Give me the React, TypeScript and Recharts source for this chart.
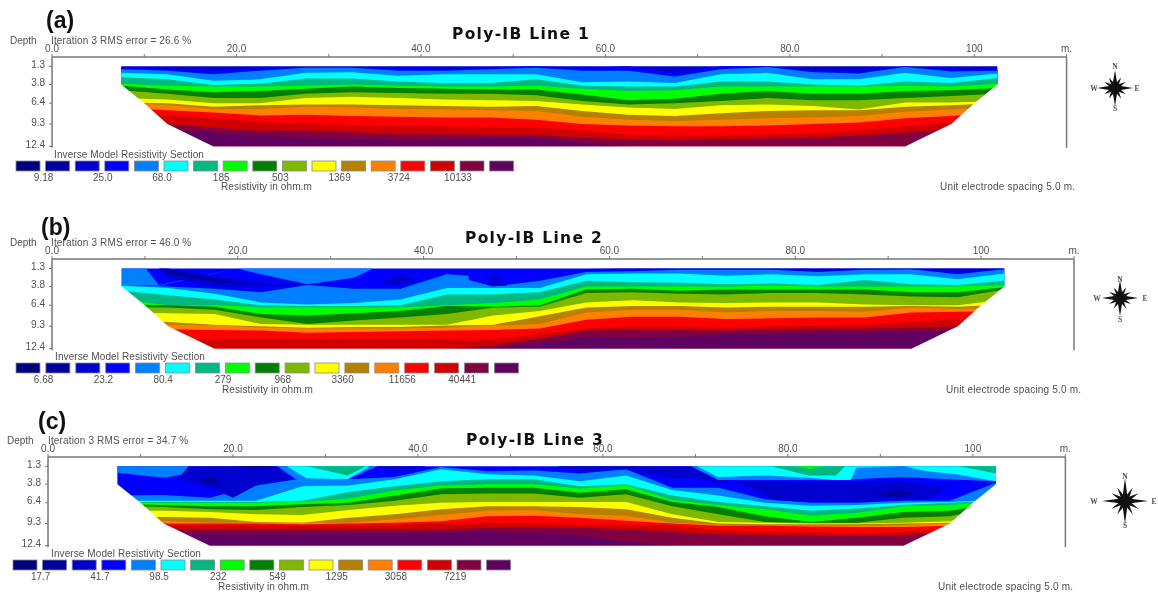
import React from 'react';
import { ComposedChart, Area, XAxis, YAxis } from 'recharts';

// section mesh columns, metres along the line
const columns = [7.5, 12.5, 17.5, 22.5, 27.5, 32.5, 37.5, 42.5, 47.5, 52.5, 57.5, 62.5, 67.5, 72.5, 77.5, 82.5, 87.5, 92.5, 97.5, 102.5];
const xTicks = [0, 10, 20, 30, 40, 50, 60, 70, 80, 90, 100, 110];
const depthTicks = [1.3, 3.8, 6.4, 9.3, 12.4];
const outlineX = [7, 7.5, 10, 12.5, 17.5, 92.5, 97.5, 100, 102.5, 103];
const outlineDepth = [3.8, 3.8, 6.4, 9.3, 12.4, 12.4, 9.3, 6.4, 3.8, 3.8];

const palette = ['#00007f', '#00009f', '#0000cf', '#0000ff', '#0080ff', '#00ffff', '#00b880', '#00ff00', '#007f00', '#80b800', '#ffff00', '#b88000', '#ff8000', '#ff0000', '#d00000', '#800040', '#600060'];

const top = columns.map(() => 1.3);

// Line 1: depth where each colour starts, top to bottom
const a3 = [1.4, 1.6, 1.9, 1.5, 1.4, 1.4, 1.5, 1.5, 1.4, 1.3, 1.5, 1.3, 2.2, 1.3, 1.3, 1.9, 2.0, 1.3, 1.7, 1.7];
const a4 = [1.7, 1.9, 2.4, 1.9, 1.5, 1.5, 1.9, 1.9, 1.7, 1.5, 1.9, 1.9, 2.7, 1.7, 1.4, 2.1, 2.3, 1.4, 2.0, 1.9];
const a5 = [2.2, 2.4, 3.3, 3.1, 2.2, 2.1, 2.6, 2.4, 2.4, 2.4, 3.5, 3.4, 3.6, 2.4, 2.2, 3.1, 3.1, 2.2, 2.9, 2.3];
const a6 = [2.8, 3.1, 3.9, 3.7, 3.0, 3.0, 3.4, 3.6, 3.6, 3.1, 4.0, 4.1, 4.1, 3.4, 3.4, 3.8, 4.0, 3.4, 3.6, 2.9];
const a7 = [3.7, 4.0, 4.1, 4.1, 4.0, 3.8, 4.0, 4.1, 4.1, 4.0, 4.4, 4.7, 4.6, 4.1, 4.1, 4.1, 4.1, 4.0, 4.1, 3.7];
const a8 = [4.0, 4.5, 4.9, 4.7, 4.4, 4.1, 4.3, 4.4, 4.5, 4.5, 5.2, 6.0, 5.8, 5.1, 4.7, 5.1, 5.1, 4.7, 4.6, 4.3];
const a9 = [4.6, 5.1, 5.7, 5.7, 5.1, 4.9, 5.0, 5.1, 5.1, 5.3, 6.1, 6.6, 6.4, 6.1, 5.7, 6.0, 6.0, 5.7, 5.4, 5.1];
const a10 = [5.7, 5.9, 6.4, 6.4, 5.7, 5.5, 5.7, 5.9, 6.0, 6.1, 6.6, 7.0, 7.2, 6.7, 6.6, 6.8, 7.3, 6.3, 6.3, 6.1];
const a11 = [6.3, 6.4, 6.9, 6.7, 6.6, 6.6, 6.7, 6.8, 6.9, 6.8, 7.5, 8.0, 8.2, 7.8, 7.5, 7.4, 7.4, 6.9, 6.7, 6.4];
const a12 = [6.4, 6.7, 7.2, 7.2, 6.9, 7.0, 7.2, 7.3, 7.4, 7.5, 8.3, 8.7, 8.9, 8.7, 8.5, 8.4, 8.2, 7.6, 7.3, 6.9];
const a13 = [7.0, 7.4, 7.7, 8.1, 8.0, 8.2, 8.3, 8.4, 8.4, 8.7, 9.3, 9.5, 9.6, 9.6, 9.5, 9.3, 9.1, 8.5, 8.2, 7.7];
const a14 = [8.0, 8.2, 8.5, 9.0, 9.3, 9.5, 9.6, 9.6, 9.8, 9.8, 10.2, 10.8, 10.9, 10.9, 10.7, 10.6, 10.2, 9.6, 9.1, 8.6];
const a15 = [9.1, 9.3, 9.8, 10.2, 10.2, 10.4, 10.7, 10.7, 10.8, 10.8, 11.2, 11.4, 11.6, 11.4, 11.3, 11.2, 10.9, 10.5, 10.0, 9.6];
const a16 = [9.8, 10.1, 10.5, 10.9, 11.2, 11.4, 11.6, 11.5, 11.2, 11.3, 11.9, 12.4, 12.4, 12.4, 12.4, 12.4, 12.4, 12.4, 12.4, 12.4];

// Line 2
const b4 = [3.6, 3.8, 4.1, 4.6, 3.6, 4.1, 4.1, 2.1, 3.8, 3.0, 1.8, 1.7, 1.5, 1.5, 1.5, 1.8, 1.5, 1.4, 2.1, 1.4];
const b5 = [3.7, 4.0, 4.8, 6.0, 6.3, 6.1, 5.6, 4.0, 4.0, 4.0, 2.1, 2.0, 2.0, 2.3, 2.1, 2.4, 2.1, 2.1, 2.8, 2.0];
const b6 = [4.4, 5.0, 5.6, 6.4, 6.5, 6.5, 6.4, 4.9, 4.9, 4.6, 3.0, 3.2, 3.3, 3.5, 3.4, 3.6, 2.9, 3.5, 3.6, 3.0];
const b7 = [5.6, 6.4, 6.4, 6.7, 6.7, 6.7, 6.7, 6.4, 6.1, 5.6, 3.8, 3.8, 3.8, 3.8, 3.7, 3.8, 3.8, 3.8, 3.8, 3.6];
const b8 = [6.3, 6.4, 6.6, 7.6, 7.8, 7.5, 7.2, 6.5, 6.6, 6.4, 4.2, 4.1, 4.4, 4.2, 4.2, 4.2, 4.2, 4.6, 4.6, 3.9];
const b9 = [6.7, 6.7, 7.0, 8.1, 9.0, 8.5, 8.1, 7.6, 6.7, 6.6, 4.7, 4.6, 4.8, 4.9, 4.7, 4.7, 4.9, 5.2, 5.3, 4.2];
const b10 = [7.4, 7.5, 7.6, 9.0, 9.1, 9.1, 9.1, 9.1, 7.8, 7.2, 6.0, 5.7, 6.0, 6.1, 6.0, 6.0, 6.3, 6.4, 6.4, 5.6];
const b11 = [8.3, 8.7, 9.1, 9.3, 9.5, 9.4, 9.4, 9.2, 9.1, 7.9, 6.7, 6.5, 6.5, 6.7, 6.6, 6.6, 6.6, 6.5, 6.6, 6.3];
const b12 = [9.0, 9.1, 9.2, 9.5, 9.6, 9.6, 9.6, 9.5, 9.2, 9.0, 7.4, 7.0, 7.0, 7.4, 7.2, 7.2, 7.3, 6.7, 6.9, 6.7];
const b13 = [9.5, 9.7, 9.8, 9.9, 10.2, 10.1, 10.0, 9.9, 9.8, 9.6, 8.4, 8.0, 8.0, 8.3, 8.2, 8.1, 8.1, 7.4, 7.3, 7.2];
const b14 = [11.1, 11.1, 11.1, 11.1, 11.1, 11.1, 11.1, 11.1, 11.1, 10.4, 9.6, 9.3, 9.3, 9.5, 9.3, 9.2, 9.1, 8.7, 8.3, 7.9];
const b15 = [12.4, 12.4, 12.4, 12.4, 12.4, 12.4, 12.4, 12.4, 11.9, 11.0, 9.9, 9.8, 9.8, 9.9, 9.7, 9.6, 9.6, 9.5, 9.3, 8.8];
const b16 = [12.4, 12.4, 12.4, 12.4, 12.4, 12.4, 12.4, 12.4, 12.4, 11.6, 10.7, 10.8, 10.7, 10.4, 10.4, 10.2, 10.2, 10.1, 9.9, 9.7];

// Line 2 patches near the surface
const bSkyX = [7.5, 10.1, 11.5, 19.9, 22.5, 27.5, 32.5, 34.6, 41, 42.5, 44.8, 45];
const bSkyUp = [1.3, 1.3, 3.6, 1.3, 1.3, 1.3, 1.3, 1.3, 3.6, 2.1, 2.3, 3.7];
const bSkyLow = [3.6, 3.6, 3.7, 1.3, 2.1, 3.5, 2.6, 1.3, 3.6, 3.8, 3.8, 3.8];
const bDarkX = [11.5, 12.5, 17.5, 22.5, 27.5, 32.5, 35, 37.5, 39.4, 46.8, 47.5, 49, 51, 57.5, 62.5, 67.5, 72.5, 77.5, 82.5, 87.5, 92.5, 97.5, 102.5];
const bDarkUp = [1.3, 1.3, 2.4, 3.2, 3.6, 3.8, 3.4, 2.1, 2.9, 3.6, 2.0, 3.7, 1.3, 1.3, 1.3, 1.3, 1.3, 1.3, 1.3, 1.3, 1.3, 1.3, 1.3];
const bDarkLow = [1.3, 2.6, 3.8, 3.8, 3.6, 3.8, 3.4, 3.6, 2.9, 3.6, 3.7, 3.7, 1.3, 1.3, 1.4, 1.4, 1.4, 1.4, 1.7, 1.4, 1.4, 1.8, 1.4];
const bNavyX = [11.5, 12.5, 17.5, 21];
const bNavyUp = [1.3, 1.5, 2.6, 3.4];
const bNavyLow = [1.3, 2.0, 3.1, 3.4];

// Line 3
const c4 = [5.4, 5.3, 5.7, 4.0, 3.0, 3.1, 2.8, 1.4, 2.0, 1.9, 2.3, 1.7, 4.3, 4.3, 5.9, 6.4, 6.4, 6.1, 6.1, 3.6];
const c5 = [6.1, 6.1, 6.1, 6.1, 4.1, 4.0, 3.1, 1.7, 2.4, 2.6, 3.4, 2.6, 4.6, 5.4, 6.4, 6.8, 6.7, 6.4, 6.3, 6.0];
const c6 = [6.3, 6.3, 6.3, 6.3, 6.1, 4.9, 4.1, 3.4, 3.1, 3.1, 4.1, 3.8, 5.4, 6.3, 6.9, 7.5, 7.2, 6.7, 6.4, 6.2];
const c7 = [6.3, 6.4, 6.4, 6.4, 6.3, 5.8, 4.7, 4.0, 3.8, 3.8, 4.4, 4.0, 6.0, 6.7, 7.3, 8.2, 7.8, 6.9, 6.7, 6.3];
const c8 = [6.6, 6.7, 6.9, 6.9, 6.6, 6.4, 5.4, 4.4, 4.3, 4.3, 5.0, 4.5, 6.3, 7.0, 8.3, 9.1, 8.5, 7.7, 7.5, 6.5];
const c9 = [6.8, 7.0, 7.3, 7.4, 7.0, 6.7, 6.1, 5.2, 5.1, 5.1, 5.7, 5.2, 6.9, 8.0, 9.1, 9.2, 9.2, 8.5, 8.3, 7.0];
const c10 = [7.5, 7.5, 7.7, 8.0, 8.1, 7.4, 6.8, 6.4, 6.3, 6.3, 6.3, 6.3, 8.0, 9.1, 9.2, 9.3, 9.3, 9.2, 9.0, 7.5];
const c11 = [8.4, 8.4, 8.5, 9.1, 9.2, 8.5, 8.0, 7.3, 6.9, 6.9, 7.0, 7.3, 8.5, 9.3, 9.4, 9.4, 9.4, 9.3, 9.2, 8.0];
const c12 = [8.9, 9.0, 9.2, 9.2, 9.2, 9.2, 8.7, 8.1, 7.5, 7.4, 8.0, 8.2, 9.2, 9.5, 9.6, 9.6, 9.6, 9.5, 9.3, 8.5];
const c13 = [9.2, 9.3, 9.3, 9.3, 9.4, 9.3, 9.2, 9.0, 8.3, 8.2, 8.5, 8.9, 9.3, 9.6, 9.6, 9.7, 9.8, 9.8, 9.6, 9.0];
const c14 = [9.5, 9.5, 9.5, 9.6, 9.6, 9.6, 9.5, 9.3, 9.2, 9.2, 9.5, 9.5, 9.6, 10.2, 10.4, 10.5, 10.7, 10.5, 10.0, 9.6];
const c15 = [10.1, 10.1, 10.1, 10.1, 10.1, 10.1, 10.1, 10.1, 9.9, 9.9, 9.9, 10.1, 10.5, 10.8, 10.9, 11.0, 11.0, 10.9, 10.5, 9.8];
const c16 = [10.8, 10.8, 10.8, 10.8, 10.8, 10.7, 10.7, 10.6, 10.5, 10.7, 10.9, 11.8, 12.4, 12.4, 12.4, 12.4, 12.4, 12.4, 12.4, 12.4];

// Line 3 patches near the surface
const cSkyX = [7.5, 12.5, 15.2, 16.4, 24.8, 26.8, 32.4, 35.6, 69.5, 72.4, 82.2, 85.4, 92.2, 97.3, 102.5];
const cSkyLow = [2.2, 2.9, 2.3, 1.3, 1.3, 3.1, 3.1, 1.3, 1.3, 3.2, 3.2, 3.2, 2.8, 3.1, 3.4];
const cCyanX = [25.8, 28, 32.4, 34.8, 70.2, 72.4, 77.5, 82.2, 85, 86.8, 87.4, 92.5, 95, 98.2, 102.5];
const cCyanLow = [1.3, 3.0, 3.1, 1.3, 1.3, 2.8, 2.6, 2.9, 3.2, 3.2, 1.5, 1.3, 2.0, 2.4, 3.4];
const cTealX = [28, 32.4, 34.4, 78.2, 82.2, 85.2, 86.2, 98.5, 102.5];
const cTealLow = [1.3, 2.6, 1.3, 1.3, 2.6, 2.6, 1.3, 1.3, 2.3];
const cGreenX = [81, 82.4, 83.8];
const cGreenLow = [1.3, 1.7, 1.3];
const cDarkX = [14, 15.2, 17.5, 20, 22.5, 24.8, 26.2, 35.5, 37.5, 41, 55, 57.5, 62.5, 67.5, 69.5, 72.4, 75, 78.3, 82.5, 87.5, 92.5, 95.3, 97.5];
const cDarkUp = [3.1, 1.3, 1.3, 1.3, 1.3, 1.3, 3.1, 1.3, 1.3, 1.3, 1.3, 1.3, 1.3, 1.3, 1.3, 3.2, 3.4, 3.5, 3.6, 3.6, 3.4, 3.9, 4.0];
const cDarkLow = [3.1, 3.5, 4.3, 5.7, 4.0, 3.3, 3.1, 1.3, 2.0, 1.3, 1.3, 2.0, 1.7, 3.0, 2.9, 3.4, 3.6, 6.0, 6.3, 6.3, 5.9, 5.9, 4.0];
const cNavyX = [16.5, 17.5, 18.5, 20.5, 22.5, 24.5, 89.5, 92, 93.5];
const cNavyUp = [3.4, 2.6, 3.4, 1.3, 1.3, 1.3, 5.2, 4.5, 5.2];
const cNavyLow = [3.4, 3.8, 3.4, 1.3, 1.8, 1.3, 5.2, 5.7, 5.2];

const scaleA = ['9.18', '25.0', '68.0', '185', '503', '1369', '3724', '10133'];
const scaleB = ['6.68', '23.2', '80.4', '279', '968', '3360', '11656', '40441'];
const scaleC = ['17.7', '41.7', '98.5', '232', '549', '1295', '3058', '7219'];

const BOTTOM = 12.4;
const AXIS_MAX = 12.6;

type Layer = { color: number; x?: number[]; up: number[]; low?: number[] };

const fromSurface = (xs: number[]) => xs.map(() => 1.3);

const layersA: Layer[] = [
  { color: 2, up: top }, { color: 3, up: a3 }, { color: 4, up: a4 }, { color: 5, up: a5 }, { color: 6, up: a6 },
  { color: 7, up: a7 }, { color: 8, up: a8 }, { color: 9, up: a9 }, { color: 10, up: a10 }, { color: 11, up: a11 },
  { color: 12, up: a12 }, { color: 13, up: a13 }, { color: 14, up: a14 }, { color: 15, up: a15 }, { color: 16, up: a16 },
];
const layersB: Layer[] = [
  { color: 3, up: top },
  { color: 4, x: bSkyX, up: bSkyUp, low: bSkyLow },
  { color: 4, up: b4 }, { color: 5, up: b5 }, { color: 6, up: b6 }, { color: 7, up: b7 }, { color: 8, up: b8 }, { color: 9, up: b9 },
  { color: 10, up: b10 }, { color: 11, up: b11 }, { color: 12, up: b12 }, { color: 13, up: b13 }, { color: 14, up: b14 }, { color: 15, up: b15 }, { color: 16, up: b16 },
  { color: 2, x: bDarkX, up: bDarkUp, low: bDarkLow },
  { color: 1, x: bNavyX, up: bNavyUp, low: bNavyLow },
];
const layersC: Layer[] = [
  { color: 3, up: top },
  { color: 4, x: cSkyX, up: fromSurface(cSkyX), low: cSkyLow },
  { color: 5, x: cCyanX, up: fromSurface(cCyanX), low: cCyanLow },
  { color: 6, x: cTealX, up: fromSurface(cTealX), low: cTealLow },
  { color: 7, x: cGreenX, up: fromSurface(cGreenX), low: cGreenLow },
  { color: 4, up: c4 }, { color: 5, up: c5 }, { color: 6, up: c6 }, { color: 7, up: c7 }, { color: 8, up: c8 }, { color: 9, up: c9 },
  { color: 10, up: c10 }, { color: 11, up: c11 }, { color: 12, up: c12 }, { color: 13, up: c13 }, { color: 14, up: c14 }, { color: 15, up: c15 }, { color: 16, up: c16 },
  { color: 2, x: cDarkX, up: cDarkUp, low: cDarkLow },
  { color: 1, x: cNavyX, up: cNavyUp, low: cNavyLow },
];

const ink = '#505050';
const sans = '"Liberation Sans", Arial, sans-serif';
const blur = 'blur(0.6px)';

// white wedge below the section outline, runs a little past the last depth
const maskRows = outlineX.map((x, i) => ({ x, band: [outlineDepth[i], AXIS_MAX] }));

const rowsFor = (l: Layer) => (l.x || columns).map((x, i) => ({ x, band: [l.up[i], l.low ? l.low[i] : BOTTOM] }));

const formatX = (v: number) => {
  if (v === 110) return 'm.';
  if (v === 100) return '100';
  return v % 20 === 0 ? v.toFixed(1) : '';
};

const Section: React.FC<{ layers: Layer[]; x0: number; x1: number; y0: number; y1: number }> = ({ layers, x0, x1, y0, y1 }) => (
  <div style={{ position: 'absolute', left: 0, top: y0 - 28, filter: blur }}>
    <ComposedChart width={1158} height={((y1 - y0) * AXIS_MAX) / BOTTOM + 34} data={rowsFor(layers[0])} margin={{ top: 0, left: 0, right: 1158 - x1 - 6, bottom: 6 }}>
      <XAxis dataKey="x" type="number" orientation="top" height={28} domain={[0, 110]} ticks={xTicks} interval={0}
        tickFormatter={formatX} tickSize={3} tickMargin={2} axisLine={{ stroke: '#777', strokeWidth: 1.5 }} tickLine={{ stroke: '#777' }}
        tick={{ fontSize: 10, fill: ink, fontFamily: sans }} />
      <YAxis yAxisId="left" width={x0} reversed domain={[0, AXIS_MAX]} ticks={depthTicks} interval={0} tickSize={3} tickMargin={4}
        axisLine={{ stroke: '#777', strokeWidth: 1.5 }} tickLine={{ stroke: '#777' }} tick={{ fontSize: 10, fill: ink, fontFamily: sans, dy: -2 }} />
      <YAxis yAxisId="right" orientation="right" width={6} reversed domain={[0, AXIS_MAX]} ticks={depthTicks} interval={0} tickSize={2}
        axisLine={{ stroke: '#777', strokeWidth: 1.5 }} tickLine={{ stroke: '#777' }} tick={false} />
      {layers.map((l, k) => (
        <Area key={k} yAxisId="left" type="linear" data={rowsFor(l)} dataKey="band" fill={palette[l.color]} fillOpacity={1} stroke="none"
          dot={false} activeDot={false} isAnimationActive={false} />
      ))}
      <Area yAxisId="left" type="linear" data={maskRows} dataKey="band" fill="#ffffff" fillOpacity={1} stroke="none"
        dot={false} activeDot={false} isAnimationActive={false} />
    </ComposedChart>
  </div>
);

const T: React.FC<{ x: number; y: number; s?: number; w?: number; a?: any; c?: string; f?: string; ls?: number; children: React.ReactNode }> = ({ x, y, s = 10, w = 400, a = 'start', c = ink, f = sans, ls = 0, children }) => (
  <text x={x} y={y} fontSize={s} fontWeight={w} textAnchor={a} fill={c} fontFamily={f} letterSpacing={ls} dominantBaseline="central">{children}</text>
);

const ColorBar: React.FC<{ x: number; y: number; pitch: number; labels: string[]; title: number; ly: number; lx: number; ry: number; rx: number; ux: number }> = ({ x, y, pitch, labels, title, ly, lx, ry, rx, ux }) => (
  <g>
    <T x={title} y={y - 7} ls={0.1}>Inverse Model Resistivity Section</T>
    {palette.map((c, i) => (
      <rect key={i} x={x + i * pitch} y={y} width={24} height={10} fill={c} stroke="#8a8a8a" strokeWidth={0.8} />
    ))}
    {labels.map((l, i) => (
      <T key={l} x={lx + i * 2 * pitch} y={ly} a="middle">{l}</T>
    ))}
    <T x={rx} y={ry} ls={0.1}>Resistivity in ohm.m</T>
    <T x={ux} y={ry} ls={0.2}>Unit electrode spacing 5.0 m.</T>
  </g>
);

const Compass: React.FC<{ x: number; y: number; r: number; w: number; e: number; n: number; s: number }> = ({ x, y, r, w, e, n, s }) => {
  const serif = '"Liberation Serif", serif';
  const spike = (deg: number, len: number, k: number) => (
    <polygon key={`${deg}`} transform={`rotate(${deg} ${x} ${y})`} fill="#111"
      points={`${x},${y - len} ${x + k},${y} ${x},${y + len} ${x - k},${y}`} />
  );
  return (
    <g>
      {spike(0, r, 3)}
      {spike(90, r, 3)}
      {spike(30, r * 0.68, 2.6)}
      {spike(60, r * 0.68, 2.6)}
      {spike(120, r * 0.68, 2.6)}
      {spike(150, r * 0.68, 2.6)}
      <T x={x} y={n} s={7.5} w={700} a="middle" f={serif}>N</T>
      <T x={x} y={s} s={7.5} w={700} a="middle" f={serif}>S</T>
      <T x={w} y={y} s={7.5} w={700} a="middle" f={serif}>W</T>
      <T x={e} y={y} s={7.5} w={700} a="middle" f={serif}>E</T>
    </g>
  );
};

export default function App() {
  const heading = '"DejaVu Sans", sans-serif';
  return (
    <div style={{ position: 'absolute', left: 0, top: 0, width: 1158, height: 592, background: '#fff', overflow: 'hidden' }}>
      <Section layers={layersA} x0={52} x1={1066.6} y0={57.3} y1={146.7} />
      <Section layers={layersB} x0={52} x1={1074} y0={259.3} y1={349} />
      <Section layers={layersC} x0={48} x1={1065.4} y0={457.3} y1={546} />
      <svg width={1158} height={592} style={{ position: 'absolute', left: 0, top: 0, filter: blur }}>
        <T x={46} y={20} s={23} w={700} c="#111">(a)</T>
        <T x={41} y={227} s={23} w={700} c="#111">(b)</T>
        <T x={38} y={421} s={23} w={700} c="#111">(c)</T>
        <T x={521} y={34} s={15.5} w={700} a="middle" c="#111" f={heading} ls={1.3}>Poly-IB Line 1</T>
        <T x={534} y={238} s={15.5} w={700} a="middle" c="#111" f={heading} ls={1.3}>Poly-IB Line 2</T>
        <T x={535} y={440} s={15.5} w={700} a="middle" c="#111" f={heading} ls={1.3}>Poly-IB Line 3</T>
        <T x={10} y={40}>Depth</T>
        <T x={51} y={40} ls={0.15}>Iteration 3 RMS error = 26.6 %</T>
        <T x={10} y={242}>Depth</T>
        <T x={51} y={242} ls={0.15}>Iteration 3 RMS error = 46.0 %</T>
        <T x={7} y={440}>Depth</T>
        <T x={48} y={440} ls={0.15}>Iteration 3 RMS error = 34.7 %</T>
        <ColorBar x={16} y={161} pitch={29.6} labels={scaleA} title={54} ly={177} lx={43.6} ry={186} rx={221} ux={940} />
        <ColorBar x={16} y={363} pitch={29.9} labels={scaleB} title={55} ly={379} lx={43.6} ry={389} rx={222} ux={946} />
        <ColorBar x={13} y={560} pitch={29.6} labels={scaleC} title={51} ly={576} lx={40.7} ry={586} rx={218} ux={938} />
        <Compass x={1115} y={88} r={18} w={1094} e={1137} n={66} s={108} />
        <Compass x={1120} y={298} r={18} w={1097} e={1145} n={279} s={319} />
        <Compass x={1125} y={501} r={23} w={1094} e={1154} n={476} s={525} />
      </svg>
    </div>
  );
}
